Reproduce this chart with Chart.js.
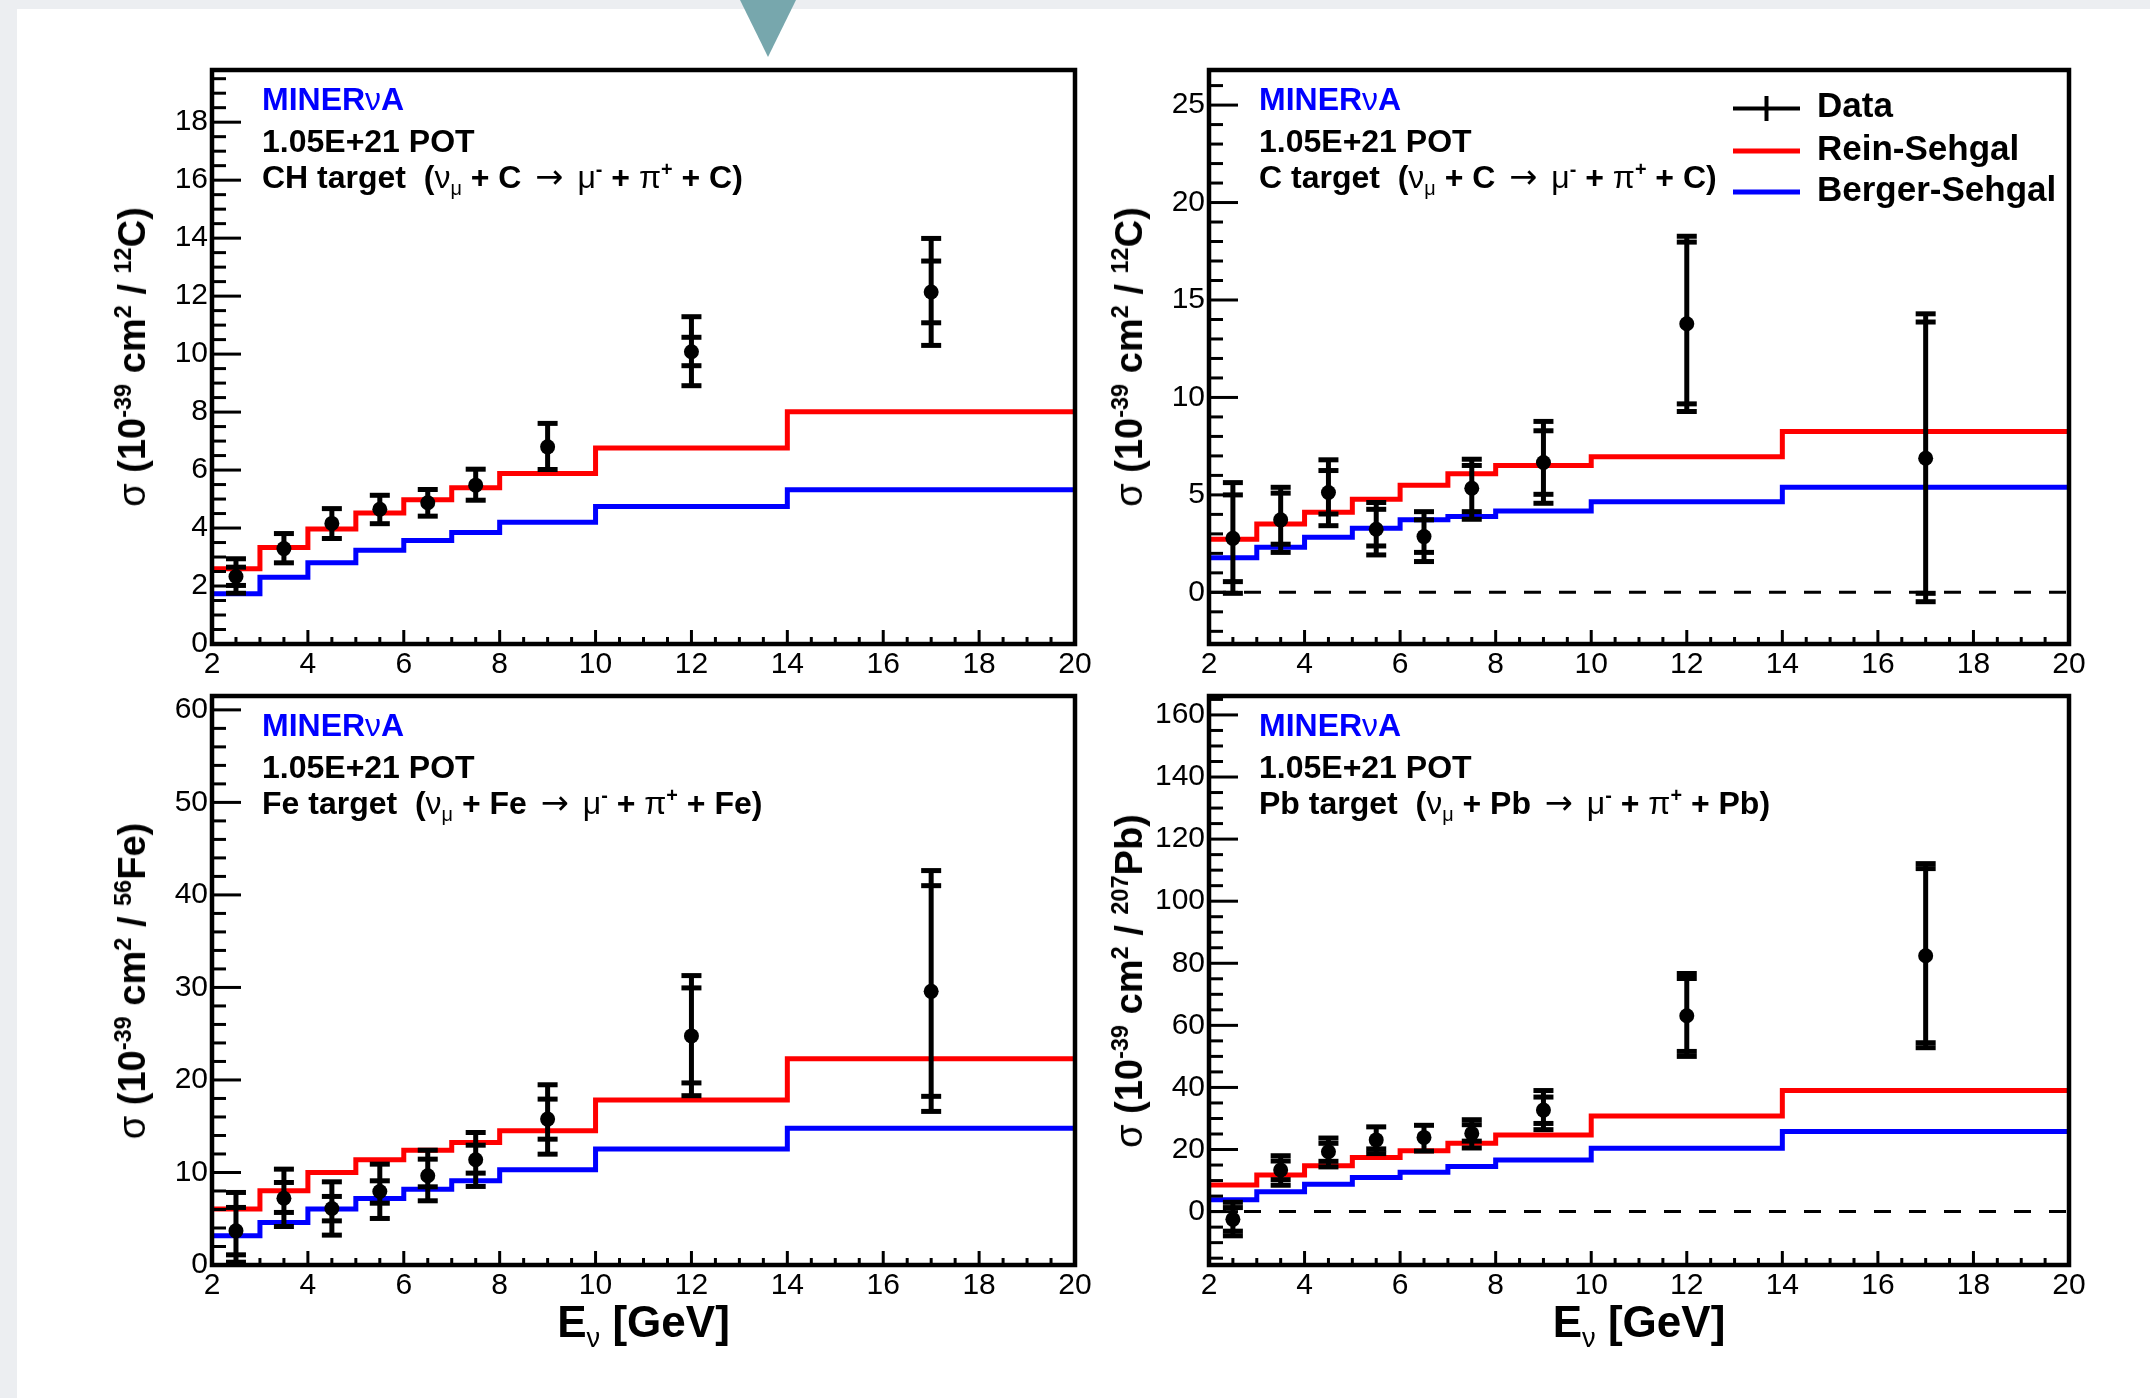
<!DOCTYPE html>
<html>
<head>
<meta charset="utf-8">
<script src="https://cdn.jsdelivr.net/npm/chart.js@4.4.1/dist/chart.umd.min.js"></script>
<style>
  html, body { margin: 0; padding: 0; }
  body { width: 2150px; height: 1398px; position: relative; background: #fff; overflow: hidden;
         font-family: "Liberation Sans", Arial, Helvetica, sans-serif; }
  #bandTop { position: absolute; left: 0; top: 0; width: 2150px; height: 9px; background: #eceef1; }
  #bandLeft { position: absolute; left: 0; top: 0; width: 17px; height: 1398px; background: #eceef1; }
  #tri { position: absolute; left: 740px; top: 0; width: 0; height: 0;
         border-left: 28px solid transparent; border-right: 28px solid transparent; border-top: 57px solid #77a7ad; }
  canvas { position: absolute; }
  .txt { position: absolute; white-space: nowrap; line-height: 1; font-weight: bold; color: #000; }
  .blue { color: #0000ff; }
  .gk { font-weight: normal; }
  .arw { font-family: "DejaVu Sans", sans-serif; font-weight: normal; font-size: 1.05em; margin: 0 5px; }
  sub, sup { font-size: 0.62em; line-height: 0; }
</style>
</head>
<body>
<div id="bandTop"></div>
<div id="bandLeft"></div>
<div id="tri"></div>
<script>
// bin edges of the model histograms and the data energy points (GeV)
const binEdges = [2, 3, 4, 5, 6, 7, 8, 10, 14, 20];
const dataX = [2.5, 3.5, 4.5, 5.5, 6.5, 7.5, 9, 12, 17];
const xTicks = [2, 4, 6, 8, 10, 12, 14, 16, 18, 20];

// CH target
const chRein   = [2.60, 3.33, 3.97, 4.52, 4.98, 5.39, 5.88, 6.76, 8.01];
const chBerger = [1.73, 2.30, 2.80, 3.23, 3.57, 3.85, 4.20, 4.74, 5.32];
const chData   = [2.33, 3.29, 4.16, 4.65, 4.87, 5.48, 6.80, 10.08, 12.14];
const chTotHi  = [2.94, 3.81, 4.67, 5.13, 5.33, 6.03, 7.61, 11.29, 13.99];
const chTotLo  = [1.75, 2.80, 3.64, 4.15, 4.41, 4.96, 6.02, 8.91, 10.30];
const chStatHi = [2.65, null, null, null, null, null, null, 10.58, 13.21];
const chStatLo = [2.02, null, null, null, null, null, null, 9.60, 11.08];
const yTicksCH = [0, 2, 4, 6, 8, 10, 12, 14, 16, 18];

// C target
const cRein   = [2.72, 3.51, 4.11, 4.78, 5.50, 6.08, 6.51, 6.96, 8.25];
const cBerger = [1.78, 2.31, 2.83, 3.29, 3.72, 3.89, 4.18, 4.65, 5.39];
const cData   = [2.77, 3.72, 5.12, 3.24, 2.86, 5.34, 6.66, 13.78, 6.88];
const cTotHi  = [5.63, 5.39, 6.80, 4.61, 4.14, 6.83, 8.77, 18.27, 14.29];
const cTotLo  = [-0.05, 2.05, 3.42, 1.92, 1.58, 3.75, 4.57, 9.28, -0.48];
const cStatHi = [5.00, 5.09, 6.25, 4.26, 3.72, 6.51, 8.29, 17.97, 13.87];
const cStatLo = [0.55, 2.47, 4.02, 2.38, 2.05, 4.14, 5.03, 9.67, -0.05];
const yTicksC = [0, 5, 10, 15, 20, 25];

// Fe target
const feRein   = [6.04, 8.02, 10.0, 11.37, 12.41, 13.24, 14.50, 17.84, 22.3];
const feBerger = [3.15, 4.59, 6.04, 7.19, 8.20, 9.10, 10.29, 12.54, 14.77];
const feData   = [3.69, 7.22, 6.11, 7.95, 9.64, 11.37, 15.77, 24.76, 29.58];
const feTotHi  = [7.84, 10.36, 8.99, 10.9, 12.41, 14.32, 19.48, 31.28, 42.63];
const feTotLo  = [0.30, 4.16, 3.23, 5.03, 6.94, 8.49, 11.98, 18.30, 16.60];
const feStatHi = [6.22, 8.92, 7.41, 9.10, 11.44, 12.95, 17.93, 29.95, 41.0];
const feStatLo = [1.10, 5.68, 4.77, 6.68, 8.45, 9.93, 13.60, 19.68, 18.23];
const yTicksFe = [0, 10, 20, 30, 40, 50, 60];

// Pb target
const pbRein   = [8.6, 11.8, 14.8, 17.4, 19.6, 22.0, 24.7, 30.8, 39.0];
const pbBerger = [3.8, 6.4, 8.8, 11.0, 12.7, 14.5, 16.6, 20.4, 25.8];
const pbData   = [-2.5, 13.4, 19.3, 23.1, 23.9, 25.2, 32.7, 63.1, 82.4];
const pbTotHi  = [3.0, 18.0, 23.7, 27.3, 27.8, 29.6, 39.0, 76.7, 112.1];
const pbTotLo  = [-7.8, 8.5, 14.4, 18.7, 19.5, 20.5, 26.4, 50.0, 52.8];
const pbStatHi = [1.3, 16.3, 22.0, 25.3, 26.2, 28.0, 36.9, 75.1, 110.5];
const pbStatLo = [-6.3, 10.3, 16.2, 20.2, 21.9, 22.7, 28.4, 51.6, 54.4];
const yTicksPb = [0, 20, 40, 60, 80, 100, 120, 140, 160];

const FONT = '"Liberation Sans", Arial, Helvetica, sans-serif';

const panels = [
  { frame: [212, 70, 1075, 644], yMin: 0, yMax: 19.8, yTicks: yTicksCH, yMinor: 0.5,
    rein: chRein, berger: chBerger, data: chData, totHi: chTotHi, totLo: chTotLo, statHi: chStatHi, statLo: chStatLo,
    target: 'CH target', nucl: 'C', ytitle: '<sup>12</sup>C', zero: false, legend: false, xtitle: false },
  { frame: [1209, 70, 2069, 644], yMin: -2.65, yMax: 26.8, yTicks: yTicksC, yMinor: 1,
    rein: cRein, berger: cBerger, data: cData, totHi: cTotHi, totLo: cTotLo, statHi: cStatHi, statLo: cStatLo,
    target: 'C target', nucl: 'C', ytitle: '<sup>12</sup>C', zero: true, legend: true, xtitle: false },
  { frame: [212, 696, 1075, 1265], yMin: 0, yMax: 61.5, yTicks: yTicksFe, yMinor: 2,
    rein: feRein, berger: feBerger, data: feData, totHi: feTotHi, totLo: feTotLo, statHi: feStatHi, statLo: feStatLo,
    target: 'Fe target', nucl: 'Fe', ytitle: '<sup>56</sup>Fe', zero: false, legend: false, xtitle: true },
  { frame: [1209, 696, 2069, 1265], yMin: -17.2, yMax: 166.1, yTicks: yTicksPb, yMinor: 5,
    rein: pbRein, berger: pbBerger, data: pbData, totHi: pbTotHi, totLo: pbTotLo, statHi: pbStatHi, statLo: pbStatLo,
    target: 'Pb target', nucl: 'Pb', ytitle: '<sup>207</sup>Pb', zero: true, legend: false, xtitle: true }
];

function stepPoints(vals) {
  const pts = vals.map((v, i) => ({ x: binEdges[i], y: v }));
  pts.push({ x: binEdges[binEdges.length - 1], y: vals[vals.length - 1] });
  return pts;
}

// ROOT-like decorations: dashed zero line, error bars, frame with inward ticks, legend
const rootStyle = {
  id: 'rootStyle',
  beforeDatasetsDraw(chart, args, o) {
    if (!o.zero) return;
    const { ctx, chartArea: a, scales: { y } } = chart;
    const py = y.getPixelForValue(0);
    ctx.save();
    ctx.strokeStyle = '#000';
    ctx.lineWidth = 3;
    ctx.setLineDash([17, 18]);
    ctx.beginPath(); ctx.moveTo(a.left, py); ctx.lineTo(a.right, py); ctx.stroke();
    ctx.restore();
  },
  afterDatasetsDraw(chart, args, o) {
    const { ctx, scales: { x, y } } = chart;
    const p = o.panel, cap = 10, rad = 7.5;
    ctx.save();
    ctx.strokeStyle = '#000';
    ctx.lineWidth = 5;
    dataX.forEach((xv, i) => {
      const px = x.getPixelForValue(xv), pc = y.getPixelForValue(p.data[i]);
      const hi = y.getPixelForValue(p.totHi[i]), lo = y.getPixelForValue(p.totLo[i]);
      ctx.beginPath(); ctx.moveTo(px, hi); ctx.lineTo(px, lo); ctx.stroke();
      const caps = [hi, lo];
      if (p.statHi[i] !== null) caps.push(y.getPixelForValue(p.statHi[i]), y.getPixelForValue(p.statLo[i]));
      caps.forEach(cy => {
        if (Math.abs(cy - pc) <= rad) return;
        ctx.beginPath(); ctx.moveTo(px - cap, cy); ctx.lineTo(px + cap, cy); ctx.stroke();
      });
    });
    ctx.restore();
  },
  afterDraw(chart, args, o) {
    const { ctx, chartArea: a, scales: { x, y } } = chart;
    const p = o.panel;
    ctx.save();
    ctx.strokeStyle = '#000';
    ctx.lineWidth = 3;
    const yMajor = p.yTicks[1] - p.yTicks[0];
    const start = Math.ceil(p.yMin / p.yMinor - 1e-6) * p.yMinor;
    for (let v = start; v <= p.yMax + 1e-6; v += p.yMinor) {
      const r = v / yMajor, major = Math.abs(r - Math.round(r)) < 1e-6;
      const py = y.getPixelForValue(v);
      ctx.beginPath(); ctx.moveTo(a.left, py); ctx.lineTo(a.left + (major ? 29 : 14), py); ctx.stroke();
    }
    for (let v = 2; v <= 20 + 1e-6; v += 0.5) {
      const major = Math.abs(v / 2 - Math.round(v / 2)) < 1e-6;
      const px = x.getPixelForValue(v);
      ctx.beginPath(); ctx.moveTo(px, a.bottom); ctx.lineTo(px, a.bottom - (major ? 14 : 7)); ctx.stroke();
    }
    ctx.lineWidth = 4.5;
    ctx.strokeRect(a.left, a.top, a.right - a.left, a.bottom - a.top);

    if (p.legend) {
      const L = a.left + 524, R = a.left + 591, tx = a.left + 608;
      const rows = [['Data', '#000', 108.5], ['Rein-Sehgal', '#ff0000', 151], ['Berger-Sehgal', '#0000ff', 192]];
      ctx.font = 'bold 35px ' + FONT;
      ctx.textBaseline = 'middle';
      ctx.fillStyle = '#000';
      rows.forEach(([label, col, yy], k) => {
        const ly = yy - p.frame[1] + a.top;
        ctx.strokeStyle = col;
        ctx.lineWidth = k === 0 ? 4 : 5;
        ctx.beginPath(); ctx.moveTo(L, ly); ctx.lineTo(R, ly); ctx.stroke();
        if (k === 0) {
          const mx = (L + R) / 2;
          ctx.beginPath(); ctx.moveTo(mx, ly - 12.5); ctx.lineTo(mx, ly + 12.5); ctx.stroke();
        }
        ctx.fillText(label, tx, ly - 1);
      });
    }
    ctx.restore();
  }
};

function makePanel(p) {
  const [L, T, R, B] = p.frame;
  const padL = 40, yW = 60, padT = 25, padR = 30, xH = 40;
  const cv = document.createElement('canvas');
  const left = L - padL - yW, top = T - padT;
  const w = (R - L) + padL + yW + padR, h = (B - T) + padT + xH;
  cv.width = w; cv.height = h;
  cv.style.left = left + 'px'; cv.style.top = top + 'px';
  cv.style.width = w + 'px'; cv.style.height = h + 'px';
  document.body.appendChild(cv);

  const tickFont = { family: FONT, size: 30 };
  new Chart(cv, {
    type: 'line',
    data: {
      datasets: [
        { label: 'Data', data: dataX.map((xv, i) => ({ x: xv, y: p.data[i] })), showLine: false,
          pointRadius: 7.5, pointHoverRadius: 7.5, pointBackgroundColor: '#000', pointBorderWidth: 0 },
        { label: 'Rein-Sehgal', data: stepPoints(p.rein), stepped: 'before', borderColor: '#ff0000',
          borderWidth: 5, pointRadius: 0, fill: false },
        { label: 'Berger-Sehgal', data: stepPoints(p.berger), stepped: 'before', borderColor: '#0000ff',
          borderWidth: 5, pointRadius: 0, fill: false }
      ]
    },
    options: {
      responsive: false,
      animation: false,
      events: [],
      layout: { padding: { left: padL, top: padT, right: padR, bottom: 0 } },
      plugins: {
        legend: { display: false },
        tooltip: { enabled: false },
        rootStyle: { panel: p, zero: p.zero }
      },
      scales: {
        x: {
          type: 'linear', min: 2, max: 20,
          afterBuildTicks: s => { s.ticks = xTicks.map(v => ({ value: v })); },
          afterFit: s => { s.height = xH; },
          grid: { display: false, drawTicks: false },
          border: { display: false },
          ticks: { font: tickFont, color: '#000', padding: 3, maxRotation: 0, autoSkip: false }
        },
        y: {
          type: 'linear', min: p.yMin, max: p.yMax,
          afterBuildTicks: s => { s.ticks = p.yTicks.map(v => ({ value: v })); },
          afterFit: s => { s.width = yW; },
          grid: { display: false, drawTicks: false },
          border: { display: false },
          ticks: { font: tickFont, color: '#000', padding: 4, autoSkip: false }
        }
      }
    },
    plugins: [rootStyle]
  });
}

function addText(html, x, baseline, size, cls) {
  const d = document.createElement('div');
  d.className = 'txt ' + (cls || '');
  d.style.fontSize = size + 'px';
  d.style.left = x + 'px';
  d.style.top = (baseline - 0.8465 * size) + 'px';
  d.innerHTML = html;
  document.body.appendChild(d);
  return d;
}

function addCentered(html, cx, cy, size, rotate) {
  const d = document.createElement('div');
  d.className = 'txt';
  d.style.fontSize = size + 'px';
  d.style.left = cx + 'px';
  d.style.top = cy + 'px';
  d.style.transform = 'translate(-50%,-50%)' + (rotate ? ' rotate(-90deg)' : '');
  d.innerHTML = html;
  document.body.appendChild(d);
  return d;
}

panels.forEach(p => {
  makePanel(p);
  const [L, T, R, B] = p.frame;
  const nu = '<span class="gk">&nu;</span>', mu = '<span class="gk">&mu;</span>', pi = '<span class="gk">&pi;</span>';
  addText('MINER' + nu + 'A', L + 50, T + 40, 32, 'blue');
  addText('1.05E+21 POT', L + 50, T + 82, 32);
  addText(p.target + '&nbsp; (' + nu + '<sub>' + mu + '</sub> + ' + p.nucl + ' <span class="arw">&rarr;</span> ' +
          mu + '<sup>-</sup> + ' + pi + '<sup>+</sup> + ' + p.nucl + ')', L + 50, T + 117, 32);
  addCentered('<span class="gk">&sigma;</span> (10<sup>-39</sup> cm<sup>2</sup> / ' + p.ytitle + ')',
              L - 80, (T + B) / 2, 38, true);
  if (p.xtitle) {
    const d = addText('E<sub><span class="gk">&nu;</span></sub> [GeV]', (L + R) / 2, 1337, 44);
    d.style.transform = 'translateX(-50%)';
  }
});
</script>
</body>
</html>
